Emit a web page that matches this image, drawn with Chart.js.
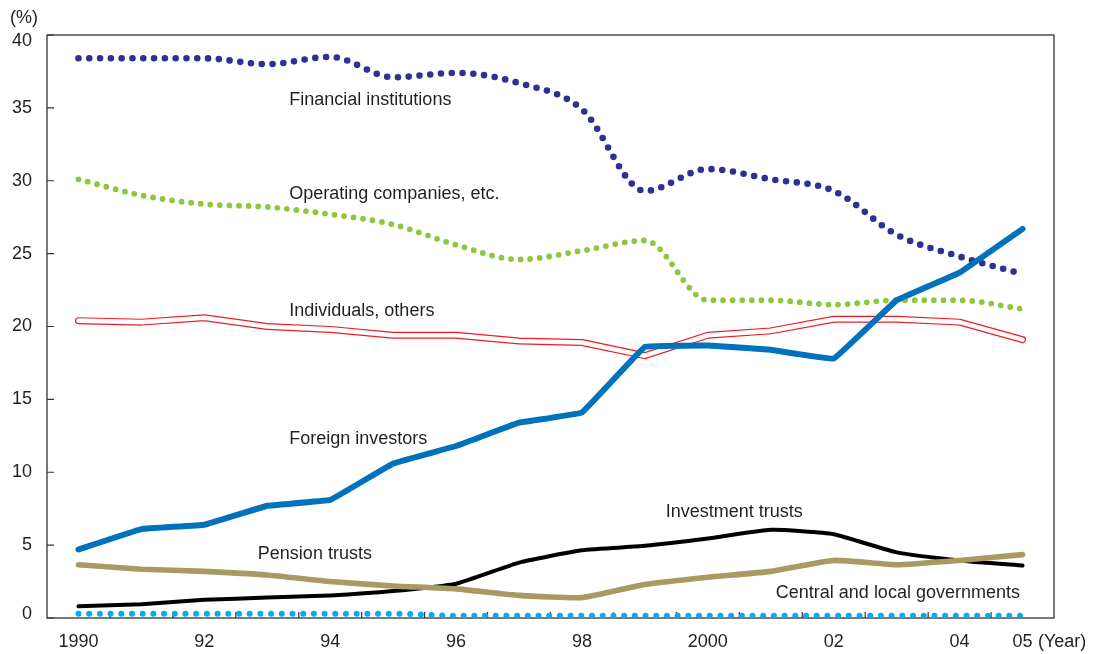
<!DOCTYPE html>
<html>
<head>
<meta charset="utf-8">
<script src="https://cdn.jsdelivr.net/npm/chart.js@4.4.0/dist/chart.umd.min.js"></script>
<style>
html, body { margin: 0; padding: 0; background: #fff; }
#wrap { width: 1093px; height: 654px; position: relative; }
</style>
</head>
<body>
<div id="wrap"><canvas id="myChart"></canvas></div>
<script>
var years = ['1990', '1991', '1992', '1993', '1994', '1995', '1996', '1997',
             '1998', '1999', '2000', '2001', '2002', '2003', '2004', '2005'];
var yearLabels = ['1990', '', '92', '', '94', '', '96', '', '98', '', '2000', '', '02', '', '04', '05'];

var financial  = [38.4, 38.4, 38.4, 38.0, 38.5, 37.1, 37.4, 36.7, 34.9, 29.3, 30.8, 30.1, 29.3, 26.3, 24.8, 23.6];
var operating  = [30.1, 29.0, 28.4, 28.2, 27.7, 27.0, 25.6, 24.6, 25.2, 25.9, 21.8, 21.8, 21.5, 21.8, 21.8, 21.2];
var individuals = [20.4, 20.3, 20.6, 20.0, 19.8, 19.4, 19.4, 19.0, 18.9, 18.0, 19.4, 19.7, 20.5, 20.5, 20.3, 19.1];
var foreign    = [4.7, 6.1, 6.4, 7.7, 8.1, 10.6, 11.8, 13.4, 14.1, 18.6, 18.7, 18.4, 17.8, 21.8, 23.7, 26.7];
var investment = [0.8, 0.95, 1.25, 1.4, 1.55, 1.85, 2.35, 3.8, 4.65, 4.95, 5.45, 6.05, 5.75, 4.5, 3.95, 3.6];
var pension    = [3.65, 3.35, 3.2, 2.95, 2.5, 2.2, 2.0, 1.55, 1.4, 2.3, 2.8, 3.2, 3.95, 3.65, 3.95, 4.35];
var government = [0.3, 0.3, 0.3, 0.3, 0.3, 0.3, 0.15, 0.15, 0.15, 0.15, 0.15, 0.15, 0.15, 0.15, 0.15, 0.15];

// series names, placed by category index / value
var notes = [
    { text: 'Financial institutions', at: 3.35, val: 35.2 },
    { text: 'Operating companies, etc.', at: 3.35, val: 28.75 },
    { text: 'Individuals, others', at: 3.35, val: 20.7 },
    { text: 'Foreign investors', at: 3.35, val: 11.95 },
    { text: 'Investment trusts', at: 9.33, val: 6.95 },
    { text: 'Pension trusts', at: 2.85, val: 4.05 },
    { text: 'Central and local governments', at: 11.08, val: 1.35 }
];

var FONT = '"Liberation Sans", Arial, Helvetica, sans-serif';
var INK = '#231f20';

function dotted(data, color, width, gap) {
    return {
        data: data, borderColor: color, borderWidth: width,
        borderDash: [0, gap], borderCapStyle: 'round', borderJoinStyle: 'round',
        cubicInterpolationMode: 'monotone', pointRadius: 0, fill: false
    };
}
function solid(data, color, width, tension) {
    return {
        data: data, borderColor: color, borderWidth: width,
        borderCapStyle: 'round', borderJoinStyle: 'round',
        tension: tension, pointRadius: 0, fill: false
    };
}

var frame = {
    id: 'frame',
    beforeDatasetsDraw: function (chart) {
        var a = chart.chartArea, ctx = chart.ctx;
        var xs = chart.scales.x, ys = chart.scales.y;
        ctx.save();
        ctx.strokeStyle = '#333';
        ctx.lineWidth = 1.3;
        ctx.strokeRect(a.left, a.top, a.right - a.left, a.bottom - a.top);
        ctx.lineWidth = 1.2;
        ctx.beginPath();
        // inward ticks on the category boundaries
        for (var i = 0; i < years.length - 1; i++) {
            var px = (xs.getPixelForValue(i) + xs.getPixelForValue(i + 1)) / 2;
            ctx.moveTo(px, a.bottom);
            ctx.lineTo(px, a.bottom - 6);
        }
        ys.ticks.forEach(function (t) {
            var py = ys.getPixelForValue(t.value);
            ctx.moveTo(a.left, py);
            ctx.lineTo(a.left + 7, py);
        });
        ctx.stroke();
        ctx.restore();
    },
    afterDraw: function (chart) {
        var a = chart.chartArea, ctx = chart.ctx;
        var xs = chart.scales.x, ys = chart.scales.y;
        ctx.save();
        ctx.fillStyle = INK;
        ctx.font = '18px ' + FONT;
        ctx.textBaseline = 'alphabetic';
        ctx.textAlign = 'left';
        notes.forEach(function (n) {
            ctx.fillText(n.text, xs.getPixelForValue(n.at), ys.getPixelForValue(n.val));
        });
        ctx.textBaseline = 'middle';
        ctx.fillText('(%)', 10, 18);
        ctx.fillText('(Year)', 1038, a.bottom + 24);
        // end labels of the value axis sit a little inside the frame
        ctx.textAlign = 'right';
        ctx.fillText('40', a.left - 15, ys.getPixelForValue(40) + 6);
        ctx.fillText('0', a.left - 15, ys.getPixelForValue(0) - 4);
        ctx.restore();
    }
};

var ctx = document.getElementById('myChart');
new Chart(ctx, {
    type: 'line',
    data: {
        labels: years,
        datasets: [
            dotted(government, '#00aeef', 6, 10.7),
            solid(pension, '#a99a63', 5.6, 0.15),
            solid(investment, '#000000', 4, 0.15),
            solid(foreign, '#0072bc', 6, 0.05),
            solid(individuals, '#ffffff', 4.6, 0),
            solid(individuals, '#ed1c24', 7, 0),
            dotted(operating, '#8dc63f', 5.8, 9.6),
            dotted(financial, '#2e3192', 6.6, 10.8)
        ]
    },
    options: {
        responsive: true,
        maintainAspectRatio: false,
        animation: false,
        layout: { padding: { top: 35, right: 39, left: 0, bottom: 0 } },
        plugins: { legend: { display: false }, tooltip: { enabled: false } },
        scales: {
            x: {
                type: 'category',
                offset: true,
                grid: { display: false, drawTicks: false },
                border: { display: false },
                ticks: {
                    autoSkip: false, maxRotation: 0, padding: 13,
                    color: INK, font: { family: FONT, size: 18 },
                    callback: function (v, i) { return yearLabels[i]; }
                },
                afterFit: function (s) { s.height = 36; }
            },
            y: {
                min: 0, max: 40,
                grid: { display: false, drawTicks: false },
                border: { display: false },
                ticks: {
                    stepSize: 5, padding: 15,
                    color: INK, font: { family: FONT, size: 18 },
                    callback: function (v) { return (v === 0 || v === 40) ? '' : v; }
                },
                afterFit: function (s) { s.width = 47; }
            }
        }
    },
    plugins: [frame]
});
</script>
</body>
</html>
